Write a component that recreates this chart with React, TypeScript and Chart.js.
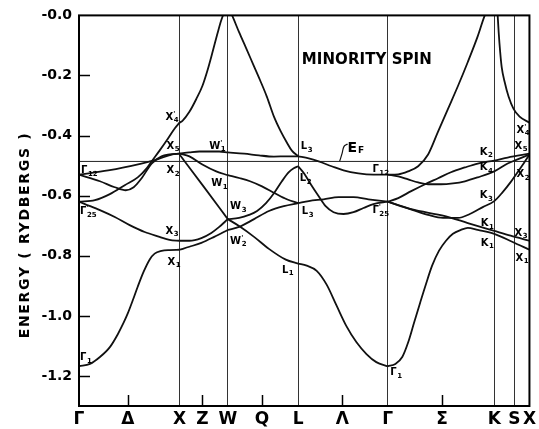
import React, { useEffect, useRef } from 'react';
import { Chart, registerables } from 'chart.js';

Chart.register(...registerables);

type P = [number, number];

// Path Γ–X–W–L–Γ–K–X, k in units of 2π/a ; energies in Rydbergs
const symmetryK = [0, 1.0, 1.48, 2.18, 3.07, 4.13, 4.48];
const xTickK = [0, 0.485, 1.0, 1.227, 1.48, 1.82, 2.18, 2.62, 3.07, 3.61, 4.13, 4.33, 4.48];
const xTickLabels = ['Γ', 'Δ', 'X', 'Z', 'W', 'Q', 'L', 'Λ', 'Γ', 'Σ', 'K', 'S', 'X'];
const midTickK = [0.485, 1.227, 1.82, 2.62, 3.61];
const yTickE = [0, -0.2, -0.4, -0.6, -0.8, -1.0, -1.2];
const fermiEnergy = -0.486;
const kMin = 0;
const kMax = 4.48;
const eMin = -1.3;
const eMax = 0;

// ---- Γ – X ----
const bandGX1: P[] = [[0, -0.530], [0.29, -0.516], [0.62, -0.493], [0.78, -0.479], [0.92, -0.463], [1.0, -0.460]];
const bandGX2: P[] = [[0, -0.530], [0.208, -0.552], [0.356, -0.572], [0.465, -0.582], [0.544, -0.572], [0.623, -0.542], [0.722, -0.493], [0.821, -0.469], [0.9, -0.463], [1.0, -0.460]];
const bandGX3: P[] = [[0, -0.620], [0.158, -0.615], [0.307, -0.595], [0.455, -0.565], [0.584, -0.539], [0.673, -0.509], [0.722, -0.486], [0.801, -0.450], [0.870, -0.417], [0.950, -0.377], [1.0, -0.357]];
const bandGX4: P[] = [[0, -0.620], [0.059, -0.628], [0.208, -0.648], [0.356, -0.671], [0.504, -0.698], [0.653, -0.721], [0.801, -0.737], [0.9, -0.747], [1.0, -0.750]];
const bandGX5: P[] = [[0, -1.168], [0.109, -1.160], [0.208, -1.137], [0.307, -1.104], [0.386, -1.061], [0.445, -1.022], [0.485, -0.992], [0.534, -0.949], [0.584, -0.903], [0.643, -0.853], [0.702, -0.813], [0.752, -0.793], [0.821, -0.784], [0.9, -0.781], [1.0, -0.780]];

// ---- X – W ----
const bandXW1: P[] = [[1.0, -0.357], [1.029, -0.351], [1.098, -0.321], [1.167, -0.278], [1.227, -0.235], [1.276, -0.185], [1.325, -0.126], [1.375, -0.063], [1.414, -0.017], [1.48, 0.04]];
const bandXW2: P[] = [[1.0, -0.460], [1.098, -0.456], [1.197, -0.453], [1.296, -0.453], [1.395, -0.453], [1.48, -0.456]];
const bandXW3: P[] = [[1.0, -0.460], [1.098, -0.469], [1.227, -0.496], [1.365, -0.519], [1.48, -0.532]];
const bandXW4: P[] = [[1.0, -0.463], [1.24, -0.570], [1.48, -0.678]];
const bandXW5: P[] = [[1.0, -0.750], [1.098, -0.750], [1.217, -0.741], [1.316, -0.724], [1.395, -0.704], [1.48, -0.678]];
const bandXW6: P[] = [[1.0, -0.780], [1.098, -0.770], [1.217, -0.757], [1.345, -0.737], [1.48, -0.714]];

// ---- W – L ----
const bandWL1: P[] = [[1.48, -0.456], [1.642, -0.460], [1.79, -0.466], [1.939, -0.470], [2.067, -0.469], [2.18, -0.469]];
const bandWL2: P[] = [[1.48, 0.03], [1.523, 0], [1.592, -0.056], [1.662, -0.109], [1.731, -0.162], [1.8, -0.215], [1.869, -0.271], [1.939, -0.337], [2.008, -0.387], [2.067, -0.423], [2.117, -0.450], [2.18, -0.469]];
const bandWL3: P[] = [[1.48, -0.532], [1.602, -0.542], [1.701, -0.552], [1.82, -0.569], [1.949, -0.592], [2.067, -0.612], [2.18, -0.625]];
const bandWL4: P[] = [[1.48, -0.678], [1.592, -0.674], [1.691, -0.664], [1.771, -0.651], [1.86, -0.625], [1.939, -0.592], [2.018, -0.552], [2.087, -0.522], [2.136, -0.509], [2.18, -0.502]];
const bandWL5: P[] = [[1.48, -0.714], [1.592, -0.704], [1.741, -0.678], [1.889, -0.651], [2.038, -0.635], [2.18, -0.625]];
const bandWL6: P[] = [[1.48, -0.678], [1.592, -0.701], [1.741, -0.737], [1.889, -0.777], [2.057, -0.813], [2.18, -0.826]];

// ---- L – Γ ----
const bandLG1: P[] = [[2.18, -0.469], [2.285, -0.476], [2.384, -0.486], [2.512, -0.502], [2.631, -0.516], [2.779, -0.526], [2.928, -0.530], [3.07, -0.530]];
const bandLG2: P[] = [[2.18, -0.502], [2.239, -0.526], [2.305, -0.562], [2.384, -0.602], [2.453, -0.635], [2.532, -0.655], [2.631, -0.661], [2.73, -0.655], [2.829, -0.641], [2.928, -0.628], [3.07, -0.620]];
const bandLG3: P[] = [[2.18, -0.625], [2.285, -0.618], [2.433, -0.612], [2.582, -0.605], [2.73, -0.605], [2.878, -0.612], [3.07, -0.620]];
const bandLG4: P[] = [[2.18, -0.826], [2.265, -0.833], [2.364, -0.850], [2.463, -0.896], [2.562, -0.966], [2.661, -1.035], [2.76, -1.088], [2.859, -1.127], [2.957, -1.154], [3.07, -1.168]];

// ---- Γ – K – X ----
const bandGK1: P[] = [[3.07, -0.530], [3.175, -0.529], [3.274, -0.519], [3.373, -0.502], [3.472, -0.463], [3.571, -0.387], [3.67, -0.311], [3.769, -0.235], [3.867, -0.155], [3.966, -0.069], [4.036, 0], [4.13, 0.06]];
const bandKX1: P[] = [[4.13, 0.2], [4.164, 0], [4.174, -0.056], [4.189, -0.122], [4.204, -0.172], [4.233, -0.221], [4.273, -0.271], [4.322, -0.311], [4.382, -0.337], [4.48, -0.357]];
const bandGK2: P[] = [[3.07, -0.530], [3.175, -0.536], [3.274, -0.546], [3.373, -0.556], [3.472, -0.562], [3.6, -0.562], [3.719, -0.559], [3.838, -0.552], [3.966, -0.539], [4.13, -0.519], [4.263, -0.493], [4.362, -0.479], [4.48, -0.463]];
const bandGK3: P[] = [[3.07, -0.620], [3.175, -0.608], [3.304, -0.585], [3.442, -0.562], [3.571, -0.542], [3.699, -0.522], [3.838, -0.506], [3.966, -0.493], [4.13, -0.483], [4.263, -0.473], [4.48, -0.460]];
const bandGK4: P[] = [[3.07, -0.620], [3.175, -0.631], [3.323, -0.648], [3.472, -0.664], [3.62, -0.674], [3.769, -0.674], [3.887, -0.661], [4.016, -0.638], [4.13, -0.618], [4.214, -0.588], [4.293, -0.555], [4.362, -0.522], [4.422, -0.493], [4.48, -0.463]];
const bandGK5: P[] = [[3.07, -0.620], [3.304, -0.645], [3.64, -0.668], [3.867, -0.691], [4.13, -0.717], [4.293, -0.733], [4.48, -0.750]];
const bandGK6: P[] = [[3.07, -1.168], [3.146, -1.160], [3.215, -1.137], [3.274, -1.088], [3.333, -1.022], [3.393, -0.956], [3.452, -0.893], [3.512, -0.833], [3.581, -0.783], [3.65, -0.750], [3.719, -0.727], [3.798, -0.714], [3.867, -0.707], [3.966, -0.714], [4.13, -0.727], [4.313, -0.754], [4.48, -0.780]];

const bands: P[][] = [
  bandGX1, bandGX2, bandGX3, bandGX4, bandGX5,
  bandXW1, bandXW2, bandXW3, bandXW4, bandXW5, bandXW6,
  bandWL1, bandWL2, bandWL3, bandWL4, bandWL5, bandWL6,
  bandLG1, bandLG2, bandLG3, bandLG4,
  bandGK1, bandKX1, bandGK2, bandGK3, bandGK4, bandGK5, bandGK6,
];

const fermiLeader: P[] = [[2.592, -0.486], [2.616, -0.460], [2.636, -0.436], [2.671, -0.428]];

type Lbl = { t: string; s: string; p?: boolean; k: number; e: number };
const pointLabels: Lbl[] = [
  { t: 'Γ', s: '12', k: 0.02, e: -0.526 },
  { t: 'Γ', s: '25', p: true, k: 0.01, e: -0.661 },
  { t: 'Γ', s: '1', k: 0.01, e: -1.147 },
  { t: 'X', s: '4', p: true, k: 0.861, e: -0.347 },
  { t: 'X', s: '5', k: 0.87, e: -0.443 },
  { t: 'X', s: '2', k: 0.87, e: -0.526 },
  { t: 'X', s: '3', k: 0.861, e: -0.727 },
  { t: 'X', s: '1', k: 0.88, e: -0.83 },
  { t: 'W', s: '1', p: true, k: 1.296, e: -0.443 },
  { t: 'W', s: '1', k: 1.316, e: -0.569 },
  { t: 'W', s: '3', k: 1.503, e: -0.645 },
  { t: 'W', s: '2', p: true, k: 1.503, e: -0.76 },
  { t: 'L', s: '3', k: 2.206, e: -0.446 },
  { t: 'L', s: '2', p: true, k: 2.196, e: -0.552 },
  { t: 'L', s: '3', k: 2.216, e: -0.661 },
  { t: 'L', s: '1', k: 2.018, e: -0.856 },
  { t: 'Γ', s: '12', k: 2.918, e: -0.522 },
  { t: 'Γ', s: '25', p: true, k: 2.918, e: -0.658 },
  { t: 'Γ', s: '1', k: 3.096, e: -1.197 },
  { t: 'K', s: '2', k: 3.986, e: -0.463 },
  { t: 'K', s: '4', k: 3.986, e: -0.516 },
  { t: 'K', s: '3', k: 3.986, e: -0.608 },
  { t: 'K', s: '1', k: 3.996, e: -0.701 },
  { t: 'K', s: '1', k: 3.996, e: -0.767 },
  { t: 'X', s: '4', p: true, k: 4.352, e: -0.39 },
  { t: 'X', s: '5', k: 4.332, e: -0.443 },
  { t: 'X', s: '2', k: 4.352, e: -0.539 },
  { t: 'X', s: '3', k: 4.332, e: -0.734 },
  { t: 'X', s: '1', k: 4.342, e: -0.817 },
];

const fermiLabel = { t: 'E', s: 'F', k: 2.671, e: -0.456 };
const titleText = 'MINORITY SPIN';
const titlePos = { k: 2.216, e: -0.162 };
const yTitle = 'ENERGY ( RYDBERGS )';

const FONT = '"DejaVu Sans", "Liberation Sans", sans-serif';

function fitText(ctx: CanvasRenderingContext2D, text: string, x: number, y: number, width: number) {
  const c = ctx as any;
  c.letterSpacing = '0px';
  const w = ctx.measureText(text).width;
  const sp = (width - w) / Math.max(1, text.length - 1);
  c.letterSpacing = sp + 'px';
  ctx.fillText(text, x, y);
  c.letterSpacing = '0px';
}

const overlayPlugin = {
  id: 'overlay',
  afterDraw(chart: any) {
    const { ctx, chartArea: a, scales } = chart;
    const xs = scales.x;
    const ys = scales.y;
    ctx.save();
    ctx.strokeStyle = '#000';
    ctx.fillStyle = '#000';
    // inner tick marks
    ctx.lineWidth = 1.5;
    midTickK.forEach((k) => {
      const px = Math.round(xs.getPixelForValue(k)) + 0.5;
      ctx.beginPath();
      ctx.moveTo(px, a.bottom);
      ctx.lineTo(px, a.bottom - 11);
      ctx.stroke();
    });
    yTickE.forEach((e) => {
      if (e === 0) return;
      const py = Math.round(ys.getPixelForValue(e)) + 0.5;
      ctx.beginPath();
      ctx.moveTo(a.left, py);
      ctx.lineTo(a.left + 11, py);
      ctx.stroke();
    });
    // frame
    ctx.lineWidth = 2;
    ctx.strokeRect(a.left, a.top, a.right - a.left, a.bottom - a.top);

    // point labels
    ctx.textAlign = 'left';
    ctx.textBaseline = 'alphabetic';
    pointLabels.forEach((l) => {
      const px = xs.getPixelForValue(l.k);
      const py = ys.getPixelForValue(l.e);
      ctx.font = `bold 10px ${FONT}`;
      ctx.fillText(l.t, px, py);
      const w = ctx.measureText(l.t).width;
      ctx.font = `bold 7px ${FONT}`;
      if (l.p) ctx.fillText("'", px + w, py - 4);
      ctx.fillText(l.s, px + w + 0.5, py + 2.5);
    });

    // Fermi label
    {
      const px = xs.getPixelForValue(fermiLabel.k);
      const py = ys.getPixelForValue(fermiLabel.e);
      ctx.font = `bold 14px ${FONT}`;
      ctx.fillText(fermiLabel.t, px, py);
      const w = ctx.measureText(fermiLabel.t).width;
      ctx.font = `bold 9px ${FONT}`;
      ctx.fillText(fermiLabel.s, px + w + 1, py + 1);
    }

    // title inside plot
    {
      const px = xs.getPixelForValue(titlePos.k);
      const py = ys.getPixelForValue(titlePos.e);
      ctx.font = `bold 15px ${FONT}`;
      fitText(ctx, titleText, px, py, 130);
    }

    // y axis title
    ctx.save();
    ctx.translate(29, 235);
    ctx.rotate(-Math.PI / 2);
    ctx.textAlign = 'center';
    ctx.font = `bold 14px ${FONT}`;
    const c = ctx as any;
    c.letterSpacing = '0px';
    const w = ctx.measureText(yTitle).width;
    const sp = (205 - w) / (yTitle.length - 1);
    c.letterSpacing = sp + 'px';
    ctx.fillText(yTitle, 0, 0);
    c.letterSpacing = '0px';
    ctx.restore();

    ctx.restore();
  },
};

export default function App() {
  const ref = useRef<HTMLCanvasElement>(null);
  useEffect(() => {
    const toXY = (b: P[]) => b.map(([x, y]) => ({ x, y }));
    const isSym = (i: number) => !midTickK.includes(xTickK[i]);
    const datasets: any[] = [
      ...bands.map((b) => ({
        data: toXY(b),
        borderColor: '#111',
        borderWidth: 1.8,
        pointRadius: 0,
        fill: false,
        cubicInterpolationMode: 'monotone',
      })),
      {
        data: [{ x: kMin, y: fermiEnergy }, { x: kMax, y: fermiEnergy }],
        borderColor: '#222',
        borderWidth: 1,
        pointRadius: 0,
        fill: false,
      },
      {
        data: toXY(fermiLeader),
        borderColor: '#111',
        borderWidth: 1.2,
        pointRadius: 0,
        fill: false,
        tension: 0.4,
      },
    ];
    const chart = new Chart(ref.current as HTMLCanvasElement, {
      type: 'line',
      data: { datasets },
      options: {
        responsive: false,
        animation: false,
        devicePixelRatio: 1,
        events: [],
        layout: { padding: { top: 13, right: 7, bottom: 0, left: 0 } },
        plugins: { legend: { display: false }, tooltip: { enabled: false } },
        scales: {
          x: {
            type: 'linear',
            min: kMin,
            max: kMax,
            afterBuildTicks: (s: any) => {
              s.ticks = xTickK.map((value) => ({ value }));
            },
            afterFit: (s: any) => {
              s.height = 23;
            },
            ticks: {
              autoSkip: false,
              maxRotation: 0,
              minRotation: 0,
              padding: 3,
              color: '#000',
              font: { family: FONT, weight: 'bold', size: 17 },
              callback: (_v: any, i: number) => xTickLabels[i],
            },
            grid: {
              drawTicks: false,
              lineWidth: 1,
              color: (c: any) => (isSym(c.index) ? '#333' : 'rgba(0,0,0,0)'),
            },
            border: { display: false },
          },
          y: {
            type: 'linear',
            min: eMin,
            max: eMax,
            afterBuildTicks: (s: any) => {
              s.ticks = yTickE.map((value) => ({ value }));
            },
            afterFit: (s: any) => {
              s.width = 79;
            },
            ticks: {
              padding: 7,
              color: '#000',
              font: { family: FONT, weight: 'bold', size: 14 },
              callback: (v: any) => (Math.abs(Number(v)) < 1e-9 ? '-0.0' : Number(v).toFixed(1)),
            },
            grid: { display: false, drawTicks: false },
            border: { display: false },
          },
        },
      } as any,
      plugins: [overlayPlugin],
    });
    return () => chart.destroy();
  }, []);
  return (
    <div style={{ position: 'absolute', left: 0, top: 0, width: 539, height: 429, background: '#fff' }}>
      <canvas ref={ref} width={539} height={429} style={{ display: 'block', width: 539, height: 429 }} />
    </div>
  );
}
